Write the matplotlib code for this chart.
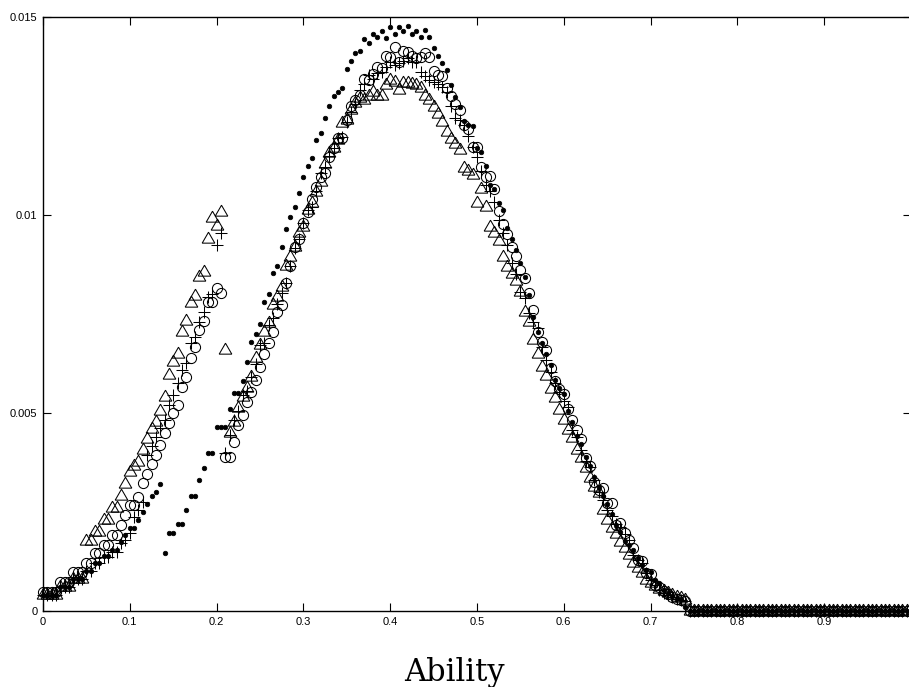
import numpy as np
import matplotlib
matplotlib.use("Agg")
import matplotlib.pyplot as plt

# Ability grid (step 0.005 from 0 to 0.995)
ability = np.round(np.arange(200) * 0.005, 3)

# Filled dots
dots = [
    0.0004, 0.0004, 0.0004, 0.0004, 0.0006, 0.0006, 0.0006, 0.0008, 0.0008, 0.0008,
    0.001, 0.001, 0.0012, 0.0012, 0.0014, 0.0014, 0.00154, 0.00154, 0.00173, 0.00192,
    0.0021, 0.0021, 0.0023, 0.0025, 0.0027, 0.0029, 0.0030, 0.0032, 0.00147, 0.00196,
    0.00196, 0.0022, 0.0022, 0.00255, 0.0029, 0.0029, 0.0033, 0.0036, 0.0040, 0.0040,
    0.00465, 0.00465, 0.00465, 0.0051, 0.0055, 0.0055, 0.0058, 0.0063, 0.0068, 0.0070,
    0.00725, 0.0078, 0.0080, 0.00853, 0.00871, 0.00918, 0.00964, 0.00994, 0.01021, 0.01056,
    0.01097, 0.01124, 0.01143, 0.01189, 0.01208, 0.01244, 0.01275, 0.0130, 0.0131, 0.0132,
    0.01368, 0.0139, 0.01408, 0.01415, 0.01444, 0.01435, 0.01457, 0.01449, 0.01465, 0.01446,
    0.01474, 0.01456, 0.01476, 0.01465, 0.01477, 0.01457, 0.01465, 0.0145, 0.01467, 0.01449,
    0.01421, 0.01402, 0.01383, 0.01366, 0.01328, 0.01299, 0.01272, 0.01237, 0.01227, 0.01225,
    0.0117, 0.0116, 0.01125, 0.01077, 0.01066, 0.01031, 0.01013, 0.00966, 0.00939, 0.00912,
    0.0088, 0.00844, 0.00798, 0.00743, 0.00705, 0.00676, 0.00649, 0.00621, 0.00583, 0.00563,
    0.00547, 0.00506, 0.00478, 0.00442, 0.00421, 0.00388, 0.00366, 0.00338, 0.00314, 0.0029,
    0.0027, 0.00245, 0.00217, 0.002, 0.00178, 0.00167, 0.00154, 0.00133, 0.00116, 0.00104,
    0.00099, 0.00078, 0.0007, 0.00053, 0.00045, 0.00038, 0.00032, 0.0003, 0.0001,
] + [0.0] * 51

# Open circles
circles = [
    0.00049, 0.00049, 0.00049, 0.00049, 0.00074, 0.00074, 0.00074, 0.00099, 0.00099, 0.00099,
    0.0012, 0.0012, 0.00146, 0.00146, 0.00167, 0.00167, 0.00192, 0.00192, 0.00217, 0.00242,
    0.00268, 0.00268, 0.00289, 0.00322, 0.00345, 0.0037, 0.00395, 0.0042, 0.00449, 0.00474,
    0.00499, 0.0052, 0.00566, 0.00592, 0.00638, 0.00666, 0.0071, 0.00733, 0.0078, 0.0078,
    0.00815, 0.00804, 0.0039, 0.0039, 0.00428, 0.0047, 0.00495, 0.00529, 0.00554, 0.00583,
    0.00617, 0.0065, 0.00676, 0.00705, 0.00756, 0.00773, 0.00829, 0.0087, 0.0092, 0.0094,
    0.0098, 0.01008, 0.0104, 0.0107, 0.01097, 0.01107, 0.01147, 0.0117, 0.01194, 0.01194,
    0.0124, 0.01275, 0.0129, 0.01303, 0.01343, 0.0134, 0.01357, 0.01375, 0.01372, 0.01402,
    0.014, 0.01425, 0.01387, 0.01415, 0.01412, 0.01402, 0.01396, 0.014, 0.01408, 0.01398,
    0.01364, 0.01354, 0.01351, 0.0132, 0.013, 0.0128, 0.01265, 0.01227, 0.01216, 0.01172,
    0.01172, 0.0112, 0.01097, 0.01098, 0.01065, 0.0101, 0.00977, 0.00952, 0.00918, 0.00896,
    0.00861, 0.0084, 0.00804, 0.0076, 0.00705, 0.0068, 0.00659, 0.00613, 0.00581, 0.0056,
    0.00548, 0.0051, 0.00482, 0.00457, 0.00434, 0.00386, 0.00366, 0.00327, 0.00306, 0.0031,
    0.00272, 0.00272, 0.00217, 0.00221, 0.00198, 0.0018, 0.00158, 0.00129, 0.00127, 0.00097,
    0.00093, 0.00066, 0.0006, 0.0005, 0.00043, 0.00035, 0.00031, 0.00028, 0.00026,
] + [0.0] * 51

# Plus signs
pluses = [
    0.0004, 0.0004, 0.0004, 0.0004, 0.0006, 0.0006, 0.0006, 0.0008, 0.0008, 0.0008,
    0.001, 0.001, 0.0012, 0.0012, 0.00137, 0.00137, 0.0015, 0.0015, 0.00171, 0.0018,
    0.00196, 0.00238, 0.00255, 0.00276, 0.00394, 0.00417, 0.0044, 0.00461, 0.00482, 0.0052,
    0.00545, 0.00575, 0.00609, 0.00627, 0.00676, 0.00693, 0.00731, 0.00756, 0.00794, 0.0080,
    0.00924, 0.00954, 0.00398, 0.00444, 0.00482, 0.00506, 0.00545, 0.00555, 0.00592, 0.00625,
    0.00672, 0.00678, 0.00722, 0.0074, 0.00775, 0.00802, 0.00828, 0.0087, 0.00916, 0.0094,
    0.0098, 0.01013, 0.0102, 0.0106, 0.01105, 0.0112, 0.0115, 0.0117, 0.01194, 0.01198,
    0.01236, 0.01261, 0.0128, 0.01316, 0.0133, 0.01354, 0.01343, 0.01358, 0.01362, 0.01375,
    0.01387, 0.0138, 0.01383, 0.0139, 0.01396, 0.01387, 0.01387, 0.01362, 0.0135, 0.0134,
    0.01337, 0.0133, 0.01322, 0.0131, 0.01274, 0.01244, 0.0124, 0.01227, 0.012, 0.01172,
    0.01147, 0.0111, 0.01076, 0.0106, 0.01034, 0.00987, 0.00955, 0.00924, 0.00878, 0.0085,
    0.00806, 0.0079, 0.00752, 0.0073, 0.00714, 0.00667, 0.00634, 0.00604, 0.00575, 0.00554,
    0.0053, 0.00516, 0.00457, 0.0044, 0.00407, 0.0038, 0.00364, 0.0033, 0.003, 0.0028,
    0.00255, 0.0024, 0.0022, 0.00213, 0.00195, 0.00179, 0.00141, 0.0013, 0.0012, 0.00095,
    0.00078, 0.00065, 0.00053, 0.00045, 0.0004, 0.00035, 0.0003, 0.00028, 0.00025,
] + [0.0] * 51

# Open triangles
triangles = [
    0.0004, 0.0004, 0.0004, 0.0004, 0.0006, 0.0006, 0.0006, 0.0008, 0.0008, 0.0008,
    0.00176, 0.00176, 0.002, 0.002, 0.0023, 0.0023, 0.0026, 0.0026, 0.0029, 0.0032,
    0.0035, 0.00365, 0.00377, 0.00407, 0.00434, 0.00459, 0.00478, 0.00505, 0.0054, 0.00596,
    0.0063, 0.00649, 0.00705, 0.00732, 0.00777, 0.00795, 0.00843, 0.00857, 0.00939, 0.00992,
    0.00972, 0.01008, 0.00659, 0.00449, 0.00478, 0.00512, 0.00541, 0.00562, 0.00592, 0.00638,
    0.00672, 0.00705, 0.00728, 0.00773, 0.00792, 0.00817, 0.0087, 0.00895, 0.0092, 0.00954,
    0.0097, 0.01013, 0.0103, 0.01059, 0.01084, 0.0113, 0.01156, 0.0117, 0.0119, 0.01232,
    0.0124, 0.01265, 0.01282, 0.01295, 0.0129, 0.013, 0.01311, 0.013, 0.013, 0.01328,
    0.0134, 0.01337, 0.01316, 0.01334, 0.01334, 0.01331, 0.01328, 0.0132, 0.013, 0.0129,
    0.01272, 0.01255, 0.01236, 0.0121, 0.01191, 0.0118, 0.01163, 0.01118, 0.0111, 0.011,
    0.0103, 0.01065, 0.0102, 0.0097, 0.00954, 0.00935, 0.00893, 0.00868, 0.0085, 0.00834,
    0.00806, 0.00756, 0.00731, 0.00684, 0.00649, 0.00615, 0.00594, 0.0056, 0.00537, 0.00508,
    0.00482, 0.00457, 0.00436, 0.00407, 0.00386, 0.0036, 0.00335, 0.00314, 0.00297, 0.00255,
    0.0023, 0.0021, 0.00195, 0.00175, 0.00158, 0.00141, 0.0012, 0.00108, 0.00095, 0.00078,
    0.0007, 0.00063, 0.00055, 0.0005, 0.00046, 0.0004, 0.00036, 0.00033, 0.00028,
] + [0.0] * 51

xticks = [0, 0.1, 0.2, 0.3, 0.4, 0.5, 0.6, 0.7, 0.8, 0.9]
xtick_labels = ["0", "0.1", "0.2", "0.3", "0.4", "0.5", "0.6", "0.7", "0.8", "0.9"]
yticks = [0, 0.005, 0.01, 0.015]
ytick_labels = ["0", "0.005", "0.01", "0.015"]

plt.rcParams['font.family'] = ['Liberation Sans', 'DejaVu Sans']

fig = plt.figure(figsize=(9.09, 6.87), dpi=100)
ax = fig.add_axes([43 / 909, 1 - 611 / 687, 868 / 909, 594 / 687])

lw = 0.75
ax.plot(ability, triangles, linestyle='none', marker=(3, 0, 0), markersize=10.5,
        markerfacecolor='none', markeredgecolor='black', markeredgewidth=lw, clip_on=False)
ax.plot(ability, circles, linestyle='none', marker='o', markersize=7.3,
        markerfacecolor='none', markeredgecolor='black', markeredgewidth=lw, clip_on=False)
ax.plot(ability, pluses, linestyle='none', marker='+', markersize=8,
        markeredgecolor='black', markeredgewidth=lw, clip_on=False)
ax.plot(ability, dots, linestyle='none', marker='o', markersize=3.3,
        markerfacecolor='black', markeredgecolor='black', markeredgewidth=0.5, clip_on=False)

ax.set_xlim(0, 1.0)
ax.set_ylim(0, 0.015)
ax.set_xticks(xticks)
ax.set_xticklabels(xtick_labels)
ax.set_yticks(yticks)
ax.set_yticklabels(ytick_labels)
ax.tick_params(direction='in', length=6, width=0.8, labelsize=8,
               top=True, right=True, pad=4)
for s in ax.spines.values():
    s.set_linewidth(1.0)

fig.text(0.5, 1 - 672 / 687, "Ability", ha='center', va='center',
         fontsize=22, family=['DejaVu Serif'])

fig.savefig("out.png", dpi=100)
